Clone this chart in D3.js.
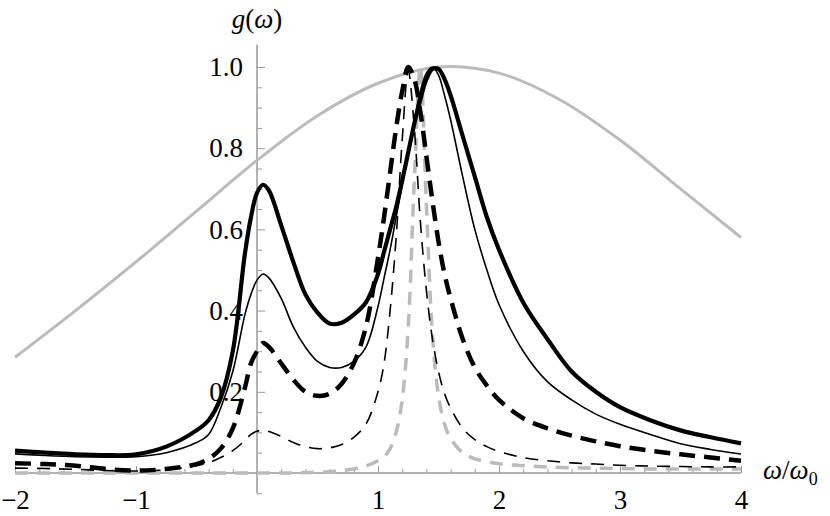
<!DOCTYPE html>
<html>
<head>
<meta charset="utf-8">
<script src="https://cdn.jsdelivr.net/npm/d3@7"></script>
<style>
  body { margin: 0; background: #fff; }
  svg text { font-family: "Liberation Serif", "DejaVu Serif", serif; fill: #000; }
</style>
</head>
<body>
<svg id="chart" width="830" height="516"></svg>
<script>
// Data
const omega = [-2, -1.75, -1.5, -1.25, -1, -0.75, -0.5, -0.4, -0.3, -0.2, -0.1, -0.05, 0, 0.05, 0.1,
  0.2, 0.3, 0.4, 0.5, 0.6, 0.7, 0.8, 0.9, 1.0, 1.05, 1.1, 1.15, 1.2, 1.25, 1.3, 1.35, 1.4, 1.45,
  1.5, 1.55, 1.6, 1.7, 1.8, 1.9, 2.0, 2.2, 2.4, 2.6, 2.8, 3.0, 3.25, 3.5, 3.75, 4.0];

const thickSolid = [0.055, 0.050, 0.046, 0.044, 0.046, 0.065, 0.105, 0.13, 0.185, 0.30, 0.54, 0.63, 0.69, 0.71, 0.695,
  0.61, 0.52, 0.44, 0.395, 0.368, 0.37, 0.39, 0.42, 0.49, 0.545, 0.60, 0.655, 0.72, 0.79, 0.86, 0.92, 0.97, 0.995,
  0.995, 0.97, 0.93, 0.83, 0.73, 0.63, 0.55, 0.42, 0.33, 0.25, 0.2, 0.162, 0.13, 0.105, 0.088, 0.073];

const thinSolid = [0.047, 0.043, 0.040, 0.039, 0.040, 0.05, 0.075, 0.095, 0.16, 0.25, 0.39, 0.44, 0.475, 0.49, 0.48,
  0.43, 0.36, 0.31, 0.275, 0.26, 0.26, 0.275, 0.31, 0.41, 0.48, 0.55, 0.63, 0.71, 0.79, 0.87, 0.94, 0.985, 1.0,
  0.98, 0.93, 0.87, 0.73, 0.60, 0.50, 0.415, 0.30, 0.225, 0.18, 0.145, 0.12, 0.095, 0.072, 0.058, 0.047];

const thickDashed = [0.024, 0.022, 0.018, 0.010, 0.006, 0.010, 0.022, 0.035, 0.06, 0.11, 0.21, 0.27, 0.30, 0.32, 0.31,
  0.27, 0.23, 0.20, 0.19, 0.195, 0.22, 0.27, 0.36, 0.53, 0.63, 0.74, 0.85, 0.94, 1.0, 0.97, 0.89, 0.78, 0.67,
  0.57, 0.49, 0.43, 0.33, 0.26, 0.215, 0.18, 0.135, 0.11, 0.092, 0.078, 0.066, 0.055, 0.046, 0.038, 0.03];

const thinDashed = [0.012, 0.011, 0.009, 0.006, 0.005, 0.008, 0.018, 0.025, 0.038, 0.055, 0.08, 0.095, 0.103, 0.105, 0.102,
  0.09, 0.075, 0.065, 0.06, 0.062, 0.07, 0.088, 0.12, 0.2, 0.27, 0.40, 0.58, 0.82, 0.99, 0.85, 0.62, 0.45, 0.33,
  0.25, 0.195, 0.16, 0.11, 0.082, 0.065, 0.053, 0.038, 0.03, 0.025, 0.022, 0.019, 0.017, 0.016, 0.015, 0.015];

const grayDashed = [0, 0, 0, 0, 0, 0, 0, 0, 0, 0, 0, 0, 0, 0, 0,
  0, 0, 0.001, 0.002, 0.003, 0.006, 0.01, 0.017, 0.03, 0.04, 0.06, 0.10, 0.18, 0.36, 0.72, 1.0, 0.66, 0.34,
  0.19, 0.12, 0.085, 0.05, 0.035, 0.028, 0.023, 0.018, 0.015, 0.013, 0.012, 0.011, 0.01, 0.01, 0.01, 0.01];

const grayOmega = [-2, -1.5, -1, -0.5, 0, 0.5, 1, 1.5, 2, 2.5, 3, 3.5, 4];
const graySolid = [0.285, 0.40, 0.52, 0.645, 0.77, 0.88, 0.96, 1.0, 0.985, 0.92, 0.82, 0.70, 0.58];

const xTicks = [-2, -1, 1, 2, 3, 4];
const yTicks = [0.2, 0.4, 0.6, 0.8, 1.0];

// Setup
const svg = d3.select("#chart");
const x = d3.scaleLinear().domain([-2, 4]).range([15, 741]);
const y = d3.scaleLinear().domain([0, 1]).range([473, 67]);
const axisColor = "#999";
const fontSize = 27;

// x axis: ticks point up, labels below
const xMinor = d3.range(-2, 4.0001, 0.2).filter((v) => Math.abs(v - Math.round(v)) > 1e-6);
const xAxis = svg.append("g").attr("transform", `translate(0,${y(0)})`);
xAxis.call(d3.axisBottom(x).tickValues(xMinor).tickSize(-4).tickFormat(""));
xAxis.append("g").call(d3.axisBottom(x).tickValues(xTicks).tickSize(-7).tickPadding(17)
  .tickFormat((d) => (d < 0 ? "\u2212" + Math.abs(d) : d)));
xAxis.selectAll(".domain").attr("d", `M${x(-2)},0H${x(4)}`).attr("stroke", axisColor);
xAxis.selectAll(".tick line").attr("stroke", axisColor);
xAxis.selectAll("text").attr("font-size", fontSize).attr("font-family", "Liberation Serif").attr("fill", "#000");

// y axis: ticks point right, labels left
const yMinor = d3.range(-0.05, 1.0001, 0.05).filter((v) => Math.abs(v * 5 - Math.round(v * 5)) > 1e-6);
const yAxis = svg.append("g").attr("transform", `translate(${x(0)},0)`);
yAxis.call(d3.axisLeft(y).tickValues(yMinor).tickSize(-5).tickFormat(""));
yAxis.append("g").call(d3.axisLeft(y).tickValues(yTicks).tickSize(-8).tickPadding(14).tickFormat(d3.format(".1f")));
yAxis.selectAll(".domain").attr("d", `M0,${y(-0.05)}V${y(1.055)}`).attr("stroke", axisColor);
yAxis.selectAll(".tick line").attr("stroke", axisColor);
yAxis.selectAll("text").attr("font-size", fontSize).attr("font-family", "Liberation Serif").attr("fill", "#000");

// Axis labels
svg.append("text").attr("x", x(0)).attr("y", 28).attr("text-anchor", "middle").attr("font-size", fontSize)
  .html('<tspan font-style="italic">g</tspan>(<tspan font-style="italic">ω</tspan>)');
svg.append("text").attr("x", 763).attr("y", 479).attr("font-size", fontSize)
  .html('<tspan font-style="italic">ω</tspan>/<tspan font-style="italic">ω</tspan><tspan font-size="18" dy="6">0</tspan>');

// Curves
const line = (xs, ys) => d3.line().curve(d3.curveCatmullRom.alpha(0.5))
  .x((d, i) => x(xs[i])).y((d) => y(d))(ys);

const series = [
  { xs: grayOmega, ys: graySolid, color: "#bbb", width: 3, dash: null },
  { xs: omega, ys: grayDashed, color: "#bbb", width: 3.5, dash: "13,9" },
  { xs: omega, ys: thinDashed, color: "#000", width: 1.6, dash: "13,9" },
  { xs: omega, ys: thickDashed, color: "#000", width: 4.5, dash: "16,9" },
  { xs: omega, ys: thinSolid, color: "#000", width: 1.6, dash: null },
  { xs: omega, ys: thickSolid, color: "#000", width: 4.2, dash: null },
];

svg.append("g").selectAll("path").data(series).enter().append("path")
  .attr("d", (s) => line(s.xs, s.ys))
  .attr("fill", "none")
  .attr("stroke", (s) => s.color)
  .attr("stroke-width", (s) => s.width)
  .attr("stroke-dasharray", (s) => s.dash);
</script>
</body>
</html>
